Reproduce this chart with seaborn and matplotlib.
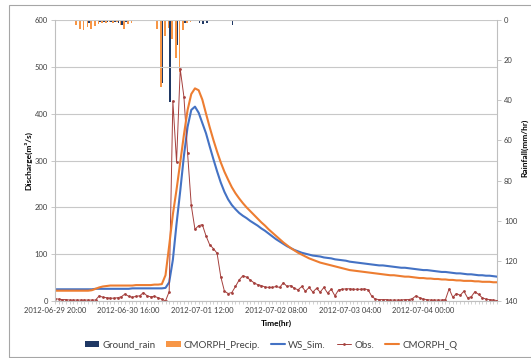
import numpy as np
import pandas as pd
import matplotlib
matplotlib.use('Agg')
import matplotlib.pyplot as plt
import seaborn as sns
from matplotlib.patches import Rectangle, Patch
from matplotlib.lines import Line2D
from matplotlib.ticker import MultipleLocator, FixedLocator

# ---------------- data (hourly, starting 2012-06-29 20:00) ----------------
hours = list(range(121))

ws_sim = [25, 25, 25, 25, 25, 25, 25, 25, 25, 25,
          25, 26, 26, 26, 26, 26, 26, 26, 26, 26,
          26, 27, 27, 27, 27, 27, 27, 27, 27, 27,
          28, 40, 88, 165, 235, 310, 372, 408, 415, 402,
          380, 358, 330, 303, 277, 253, 233, 217, 205, 196,
          188, 182, 177, 171, 166, 161, 155, 150, 144, 138,
          132, 127, 122, 117, 113, 109, 106, 103, 101, 99,
          97, 96, 95, 93, 92, 91, 89, 88, 87, 86,
          84, 83, 82, 81, 80, 79, 78, 77, 76, 76,
          75, 74, 73, 72, 71, 71, 70, 69, 68, 67,
          66, 66, 65, 64, 63, 62, 62, 61, 60, 59,
          59, 58, 57, 57, 56, 55, 55, 54, 54, 53, 52]

cmorph_q = [22, 22, 22, 22, 22, 22, 22, 22, 22, 22,
            23, 26, 29, 31, 32, 33, 33, 33, 33, 33,
            33, 33, 34, 34, 34, 34, 34, 35, 35, 36,
            55, 118, 185, 238, 296, 355, 408, 442, 454, 450,
            430, 400, 371, 344, 319, 296, 276, 259, 243, 230,
            219, 209, 200, 192, 184, 176, 168, 161, 153, 146,
            139, 132, 125, 119, 113, 108, 103, 99, 95, 91,
            88, 85, 82, 80, 78, 76, 74, 72, 70, 68,
            66, 65, 64, 63, 62, 61, 60, 59, 58, 57,
            56, 55, 55, 54, 53, 52, 52, 51, 50, 49,
            49, 48, 48, 47, 47, 46, 46, 45, 45, 44,
            44, 43, 43, 43, 42, 42, 41, 41, 41, 40, 40]

obs = [5, 4, 3, 3, 2, 2, 2, 2, 2, 2,
       2, 2, 11, 8, 7, 6, 6, 7, 9, 15,
       10, 8, 10, 11, 18, 11, 9, 10, 7, 4,
       0, 20, 427, 297, 495, 436, 315, 204, 153, 161,
       163, 139, 120, 112, 102, 52, 21, 16, 18, 31,
       45, 54, 51, 45, 39, 35, 33, 30, 29, 29,
       31, 29, 39, 31, 33, 27, 24, 31, 21, 29,
       19, 27, 19, 29, 17, 25, 11, 24, 25, 26,
       26, 25, 25, 25, 26, 24, 10, 4, 3, 3,
       3, 2, 2, 2, 2, 3, 3, 5, 11, 7,
       4, 3, 2, 2, 2, 2, 3, 26, 8, 16,
       12, 21, 7, 9, 20, 14, 7, 4, 3, 2, 1]

cmorph_hours = [5, 6, 7, 8, 9, 10, 11, 12, 13, 14, 15, 16, 17, 18, 19, 20, 21, 22,
                28, 29, 30, 31, 32, 33, 34, 35, 36, 37]
cmorph_precip = [0.5, 2.5, 4.5, 5.2, 3.5, 4.5, 2.8, 2.0, 1.5, 1.5, 1.2, 1.5, 1.2, 2.5, 4.5, 2.0, 1.5, 0.5,
                 4.6, 33.2, 8.0, 4.2, 9.6, 19.0, 25.7, 5.0, 1.7, 0.8]

ground_hours = [9, 12, 13, 14, 15, 16, 17, 18, 19, 29, 31, 33, 35, 39, 40, 41, 48]
ground_rain = [1.5, 0.8, 1.0, 0.8, 1.0, 0.8, 1.5, 2.5, 1.0, 31.2, 40.7, 12.5, 1.7, 1.5, 1.8, 1.5, 2.5]

tick_hours = [0, 20, 40, 60, 80, 100]
tick_labels = ['2012-06-29 20:00', '2012-06-30 16:00', '2012-07-01 12:00',
               '2012-07-02 08:00', '2012-07-03 04:00', '2012-07-04 00:00']

df = pd.DataFrame({'h': hours, 'ws': ws_sim, 'cq': cmorph_q, 'obs': obs})

# ---------------- style ----------------
sns.set_style('white')
plt.rcParams['font.family'] = ['Lato', 'DejaVu Sans']

C_GROUND = '#1F3864'
C_CPREC = '#F79646'
C_WS = '#4472C4'
C_OBS = '#A5403D'
C_CQ = '#ED7D31'
GRID = '#C8C8C8'
TXT = '#404040'

W, H = 531, 358
fig = plt.figure(figsize=(W / 100, H / 100), dpi=100)
ax = fig.add_axes([55 / W, 1 - 301 / H, (497 - 55) / W, (301 - 20) / H])
ax2 = ax.twinx()

# rainfall bars (secondary, inverted)
ax2.bar(np.array(cmorph_hours) - 0.22, cmorph_precip, width=0.45, color=C_CPREC, linewidth=0)
ax2.bar(np.array(ground_hours) + 0.22, ground_rain, width=0.45, color=C_GROUND, linewidth=0)
ax2.set_ylim(140, 0)
ax2.set_yticks(range(0, 141, 20))

# discharge lines
sns.lineplot(data=df, x='h', y='ws', ax=ax, color=C_WS, lw=1.5)
sns.lineplot(data=df, x='h', y='obs', ax=ax, color=C_OBS, lw=0.7,
             marker='o', markersize=2, markeredgewidth=0)
sns.lineplot(data=df, x='h', y='cq', ax=ax, color=C_CQ, lw=1.5)

ax.set_zorder(ax2.get_zorder() + 1)
ax.patch.set_visible(False)

ax.set_xlim(0, 120)
ax.set_ylim(0, 600)
ax.set_yticks(range(0, 601, 100))
ax.yaxis.grid(True, color=GRID, lw=0.8)
ax.xaxis.grid(False)
ax.set_xlabel('')
ax.set_ylabel('')
ax2.set_ylabel('')

ax.xaxis.set_major_locator(FixedLocator(tick_hours))
ax.set_xticklabels(tick_labels)
ax.xaxis.set_minor_locator(MultipleLocator(1))

ax.spines['top'].set_visible(False)
ax2.spines['top'].set_visible(False)
ax.spines['right'].set_visible(False)
for s in ['left', 'bottom']:
    ax.spines[s].set_color('#BFBFBF')
    ax.spines[s].set_linewidth(0.8)
ax2.spines['left'].set_visible(False)
ax2.spines['bottom'].set_visible(False)
ax2.spines['right'].set_color('#BFBFBF')
ax2.spines['right'].set_linewidth(0.8)

ax.tick_params(axis='y', length=3, width=0.6, color='#BFBFBF', labelsize=5.5,
               labelcolor=TXT, pad=2, left=True)
ax.tick_params(axis='x', which='both', length=2.2, width=0.5, color='#BFBFBF',
               labelsize=5.5, labelcolor=TXT, pad=2, bottom=True, direction='out')
ax2.tick_params(axis='y', length=3, width=0.6, color='#BFBFBF', labelsize=5.5,
                labelcolor=TXT, pad=2, right=True)

# axis titles
fig.text(28 / W, 1 - 161 / H, 'Discharge(m³/s)', rotation=90, ha='center', va='center',
         fontsize=6, fontweight='bold', color='black')
fig.text(276 / W, 1 - 323 / H, 'Time(hr)', ha='center', va='center',
         fontsize=6, fontweight='bold', color='black')
fig.text(525 / W, 1 - 148 / H, 'Rainfall(mm/hr)', rotation=90, ha='center', va='center',
         fontsize=6, fontweight='bold', color='black')

# legend
handles = [Patch(facecolor=C_GROUND, edgecolor='none'),
           Patch(facecolor=C_CPREC, edgecolor='none'),
           Line2D([], [], color=C_WS, lw=1.5),
           Line2D([], [], color=C_OBS, lw=0.7, marker='o', markersize=2, markeredgewidth=0),
           Line2D([], [], color=C_CQ, lw=1.5)]
labels = ['Ground_rain', 'CMORPH_Precip.', 'WS_Sim.', 'Obs.', 'CMORPH_Q']
fig.legend(handles, labels, loc='center', bbox_to_anchor=(271 / W, 1 - 345 / H), ncol=5,
           frameon=False, fontsize=7, handlelength=1.5, handleheight=0.6,
           columnspacing=1.1, handletextpad=0.3, labelcolor=TXT)

# chart-area border
fig.patches.append(Rectangle((9 / W, 1 - 357 / H), (W - 9 + 5) / W, (357 - 5) / H,
                             transform=fig.transFigure, fill=False,
                             edgecolor='#A6A6A6', lw=0.8))

fig.savefig('out.png', dpi=100)
